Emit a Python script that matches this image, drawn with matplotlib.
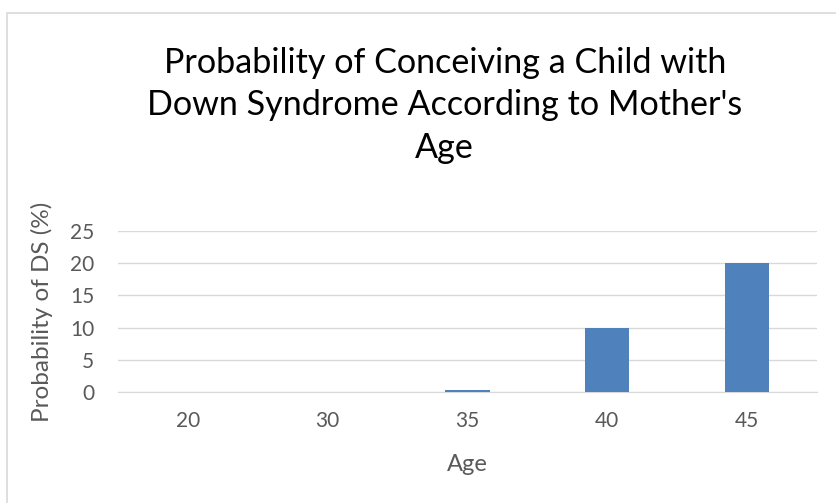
import matplotlib.pyplot as plt
from matplotlib.patches import Rectangle

# data
ages = ["20", "30", "35", "40", "45"]
prob = [0.02, 0.03, 0.3, 10, 20]

plt.rcParams['font.family'] = ['Lato', 'DejaVu Sans']
txt = '#595959'

fig = plt.figure(figsize=(8.36, 5.03), dpi=100)
ax = fig.add_axes([0.141, 0.2207, 0.836, 0.320])

# chart border like the Excel frame
fig.patches.append(Rectangle((7 / 836, -0.1), 1.0, 1 - 13 / 503 + 0.1,
                             transform=fig.transFigure, fill=False,
                             edgecolor='#d9d9d9', linewidth=1.2))

x = range(len(ages))
ax.bar(x, prob, width=0.32, color='#4f81bd', zorder=3)
ax.set_xlim(-0.5, len(ages) - 0.5)
ax.set_ylim(0, 25)
ax.set_yticks([0, 5, 10, 15, 20, 25])
ax.set_xticks(list(x))
ax.set_xticklabels(ages)
ax.yaxis.grid(True, color='#d9d9d9', linewidth=1, zorder=0)
for s in ['top', 'right', 'left']:
    ax.spines[s].set_visible(False)
ax.spines['bottom'].set_color('#d9d9d9')
ax.tick_params(length=0, labelsize=15, colors=txt, pad=14)
ax.tick_params(axis='y', pad=17)

ax.set_xlabel("Age", fontsize=17, color=txt, labelpad=16)
ax.set_ylabel("Probability of DS (%)", fontsize=17.5, color=txt, labelpad=12)

fig.text(0.532, 0.791, "Probability of Conceiving a Child with\nDown Syndrome According to Mother's\nAge",
         ha='center', va='center', fontsize=24.6, color='#000000', linespacing=1.4)

fig.savefig("out.png", dpi=100)
